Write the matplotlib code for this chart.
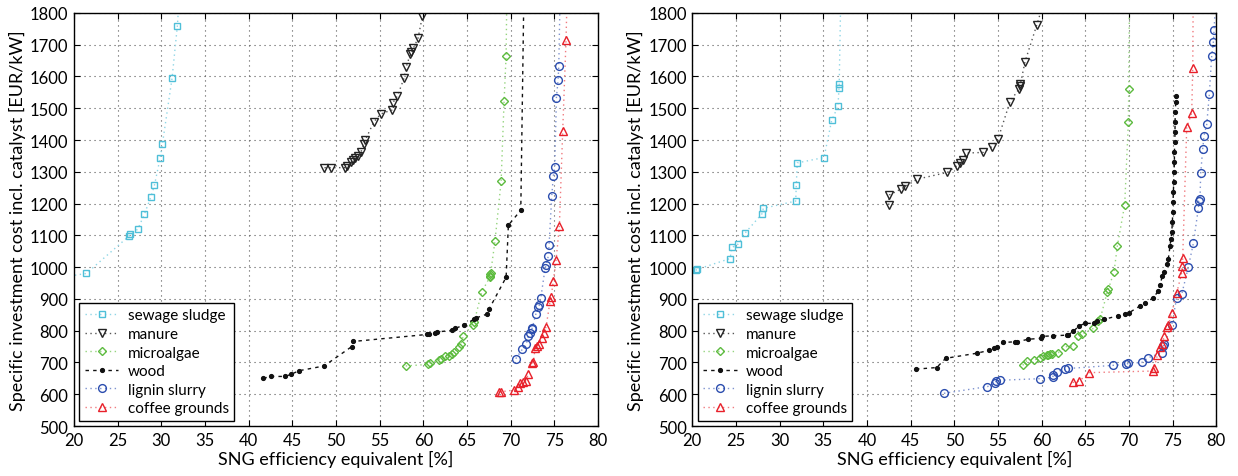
import matplotlib
matplotlib.use("Agg")
import matplotlib.pyplot as plt

plt.rcParams['font.family'] = ['Lato', 'DejaVu Sans']

# ---------------- left panel data ----------------
L_sewage_x = [19.0, 21.41, 26.3, 26.41, 27.29, 28.05, 28.78, 29.2, 29.85, 30.11, 31.22, 31.83, 32.0]
L_sewage_y = [970, 980, 1098, 1103, 1119, 1166, 1220, 1257, 1342, 1386, 1594, 1759, 1830]

L_manure_x = [48.67, 49.39, 51.07, 51.3, 51.72, 51.91, 52.18, 52.49, 52.83, 53.17, 53.32, 54.35, 55.12,
              56.41, 56.49, 57.02, 57.79, 58.02, 58.51, 58.63, 58.86, 59.39, 59.89]
L_manure_y = [1313, 1313, 1313, 1319, 1330, 1338, 1344, 1350, 1361, 1386, 1399, 1458, 1482,
              1495, 1517, 1538, 1595, 1629, 1671, 1676, 1689, 1721, 1790]

L_algae_x = [57.98, 60.58, 60.7, 61.73, 61.99, 62.48, 62.88, 63.25, 63.51, 64.12, 64.28, 64.58, 65.65,
             65.8, 66.68, 67.6, 67.64, 67.67, 67.71, 68.2, 68.9, 69.24, 69.47, 69.55]
L_algae_y = [689, 694, 697, 708, 712, 719, 720, 726, 733, 750, 757, 784, 819,
             826, 922, 968, 973, 978, 983, 1083, 1270, 1524, 1666, 1850]

L_wood_x = [41.68, 42.52, 44.16, 44.88, 45.76, 48.63, 51.8, 51.95, 60.39, 60.69, 61.34, 61.6, 63.25,
            63.63, 64.66, 65.8, 66.03, 67.26, 67.52, 69.47, 69.73, 71.15, 71.5]
L_wood_y = [650, 656, 656, 663, 674, 689, 750, 766, 788, 791, 793, 796, 801,
            807, 818, 836, 840, 852, 868, 968, 1132, 1179, 1850]

L_lignin_x = [70.58, 71.34, 71.76, 72.03, 72.22, 72.41, 72.48, 72.87, 73.17, 73.28, 73.44, 73.93, 74.05,
              74.31, 74.39, 74.7, 74.88, 75.04, 75.23, 75.42, 75.5, 75.65]
L_lignin_y = [712, 742, 757, 782, 794, 805, 810, 852, 876, 881, 902, 996, 1006,
              1036, 1070, 1225, 1288, 1314, 1533, 1589, 1632, 1850]

L_coffee_x = [68.71, 68.9, 70.38, 70.81, 71.07, 71.45, 71.72, 72.03, 72.41, 72.6, 72.79, 72.98, 73.25,
              73.55, 73.82, 74.05, 74.51, 74.62, 74.88, 75.19, 75.57, 75.95, 76.33, 76.45]
L_coffee_y = [608, 608, 613, 623, 634, 639, 642, 665, 697, 703, 746, 752, 757,
              778, 794, 813, 894, 906, 957, 1022, 1130, 1429, 1715, 1850]

# ---------------- right panel data ----------------
R_sewage_x = [20.39, 20.57, 24.32, 24.55, 25.27, 26.07, 27.98, 28.13, 31.84, 31.91, 32.02, 35.08,
              35.96, 36.68, 36.8, 36.82, 37.0]
R_sewage_y = [990, 993, 1027, 1062, 1073, 1108, 1168, 1185, 1208, 1260, 1328, 1345,
              1462, 1506, 1565, 1575, 1850]

R_manure_x = [42.49, 42.56, 43.9, 44.39, 45.77, 49.2, 50.28, 50.65, 50.96, 51.34, 53.32, 54.28, 55.0,
              56.38, 57.41, 57.49, 57.56, 58.1, 59.44, 60.2]
R_manure_y = [1196, 1227, 1246, 1254, 1277, 1298, 1319, 1328, 1336, 1359, 1361, 1379, 1403,
              1521, 1561, 1569, 1575, 1647, 1762, 1830]

R_algae_x = [57.83, 58.29, 59.13, 59.82, 60.19, 60.58, 60.77, 60.96, 61.15, 61.91, 62.68, 63.63, 64.2,
             64.59, 65.92, 66.49, 66.69, 67.52, 67.64, 68.29, 68.67, 69.51, 69.93, 69.97, 70.05]
R_algae_y = [691, 705, 707, 715, 719, 723, 723, 726, 728, 731, 749, 752, 782,
             789, 807, 831, 836, 923, 931, 986, 1067, 1197, 1458, 1561, 1850]

R_wood_x = [45.61, 47.98, 49.01, 52.56, 53.97, 54.55, 54.86, 55.61, 56.95, 57.14, 58.47, 59.89, 60.04,
            61.34, 62.94, 62.98, 63.63, 64.28, 64.97, 66.04, 66.31, 67.18, 68.78, 69.55, 70.04, 71.27,
            71.84, 72.79, 73.36, 73.56, 73.82, 74.02, 74.32, 74.5, 74.7, 74.81, 74.89, 74.97, 75.0,
            75.04, 75.08, 75.12, 75.16, 75.2, 75.2, 75.24, 75.27, 75.27, 75.31, 75.35, 75.39]
R_wood_y = [679, 684, 713, 729, 738, 745, 749, 763, 765, 765, 773, 776, 782,
            784, 786, 786, 798, 815, 823, 823, 831, 836, 847, 852, 857, 878,
            886, 904, 925, 943, 973, 985, 1009, 1025, 1067, 1090, 1109, 1141, 1172,
            1204, 1235, 1267, 1298, 1330, 1361, 1393, 1424, 1456, 1487, 1519, 1540]

R_lignin_x = [48.82, 53.78, 54.66, 54.78, 55.23, 59.81, 61.27, 61.34, 61.72, 62.67, 63.05, 68.22, 69.67,
              69.93, 71.46, 72.22, 73.75, 73.93, 74.02, 74.89, 75.46, 76.04, 76.79, 77.37, 77.94,
              77.98, 78.13, 78.21, 78.44, 78.59, 78.9, 79.2, 79.47, 79.66, 79.74, 79.9]
R_lignin_y = [603, 624, 634, 642, 644, 649, 654, 660, 671, 679, 681, 691, 694,
              697, 700, 715, 731, 752, 757, 817, 904, 915, 1000, 1075, 1185,
              1208, 1214, 1295, 1372, 1414, 1449, 1545, 1666, 1708, 1746, 1830]

R_coffee_x = [63.55, 64.32, 65.46, 72.72, 72.87, 73.25, 73.56, 73.75, 74.05, 74.32, 74.5, 74.89, 75.46,
              76.04, 76.1, 76.15, 76.61, 77.18, 77.3, 77.35]
R_coffee_y = [637, 642, 668, 673, 681, 723, 750, 757, 784, 813, 817, 855, 918,
              983, 1002, 1030, 1440, 1485, 1627, 1850]

labels = ['sewage sludge', 'manure', 'microalgae', 'wood', 'lignin slurry', 'coffee grounds']
x_ticks = list(range(20, 81, 5))
y_ticks = list(range(500, 1801, 100))

dot = (0, (1, 2.5))
styles = [
    dict(color='#4FBFD8', marker='s', ls=dot, ms=4.5, mfc='none', lc='#8fd6e6'),
    dict(color='#222222', marker='v', ls=dot, ms=5.8, mfc='none', lc='#555555'),
    dict(color='#5DBB3F', marker='D', ls=dot, ms=4.3, mfc='none', lc='#95d47e'),
    dict(color='#111111', marker='.', ls=(0, (2.5, 3)), ms=5.5, mfc='#111111', lc='#111111'),
    dict(color='#2B4DAE', marker='o', ls=dot, ms=5.6, mfc='none', lc='#7d92cf'),
    dict(color='#E8202A', marker='^', ls=dot, ms=5.8, mfc='none', lc='#f07a7f'),
]

fig = plt.figure(figsize=(12.38, 4.77), dpi=100)
ax1 = fig.add_axes([0.0598, 0.1048, 0.4233, 0.866])
ax2 = fig.add_axes([0.5592, 0.1048, 0.4233, 0.866])

panels = [
    (ax1, [(L_sewage_x, L_sewage_y), (L_manure_x, L_manure_y), (L_algae_x, L_algae_y),
           (L_wood_x, L_wood_y), (L_lignin_x, L_lignin_y), (L_coffee_x, L_coffee_y)]),
    (ax2, [(R_sewage_x, R_sewage_y), (R_manure_x, R_manure_y), (R_algae_x, R_algae_y),
           (R_wood_x, R_wood_y), (R_lignin_x, R_lignin_y), (R_coffee_x, R_coffee_y)]),
]

for ax, series in panels:
    for (xs, ys), lab, st in zip(series, labels, styles):
        ax.plot(xs, ys, linestyle=st['ls'], color=st['lc'], lw=1.0,
                marker=st['marker'], ms=st['ms'], mfc=st['mfc'], mec=st['color'],
                mew=1.0, label=lab)
    ax.set_xlim(20, 80)
    ax.set_ylim(500, 1800)
    ax.set_xticks(x_ticks)
    ax.set_yticks(y_ticks)
    ax.tick_params(direction='in', top=True, right=True, labelsize=12, length=4, width=0.8,
                   pad=4)
    ax.grid(True, linestyle=(0, (1, 3.5)), color='#555555', lw=0.8)
    for sp in ax.spines.values():
        sp.set_linewidth(1.0)
    ax.set_xlabel('SNG efficiency equivalent [%]', fontsize=13, labelpad=2)
    ax.set_ylabel('Specific investment cost incl. catalyst [EUR/kW]', fontsize=13, labelpad=3)
    leg = ax.legend(loc='lower left', fontsize=11, frameon=True, fancybox=False,
                    edgecolor='black', framealpha=1, borderaxespad=0.35, handlelength=2.2,
                    labelspacing=0.3, borderpad=0.35, handletextpad=0.6)
    leg.get_frame().set_linewidth(1.0)

fig.savefig('out.png', dpi=100)
